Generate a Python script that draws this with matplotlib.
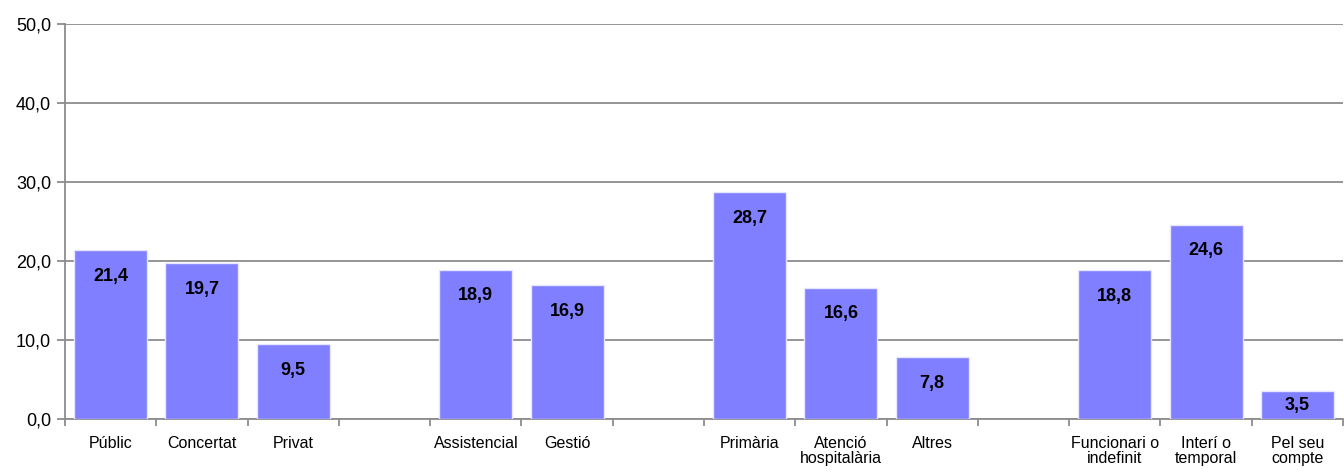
import matplotlib
matplotlib.use('Agg')
import matplotlib.pyplot as plt
import numpy as np

plt.rcParams['font.family'] = ['Liberation Sans Narrow', 'Liberation Sans', 'DejaVu Sans']

# chart data (blank slots separate the groups)
categories = ['Públic', 'Concertat', 'Privat', '',
              'Assistencial', 'Gestió', '',
              'Primària', 'Atenció\nhospitalària', 'Altres', '',
              'Funcionari o\nindefinit', 'Interí o\ntemporal', 'Pel seu\ncompte']
values = [21.4, 19.7, 9.5, None,
          18.9, 16.9, None,
          28.7, 16.6, 7.8, None,
          18.8, 24.6, 3.5]
y_ticks = [0, 10, 20, 30, 40, 50]

bar_color = '#7f7fff'
grey = '#8c8c8c'

fig = plt.figure(figsize=(13.44, 4.73), dpi=100)
ax = fig.add_axes([65 / 1344, 54 / 473, 1278 / 1344, 395 / 473])

x = np.arange(len(categories))
for xi, v in zip(x, values):
    if v is None:
        continue
    ax.bar(xi, v, width=0.8, color=bar_color, edgecolor='#e6e6ff', linewidth=1, zorder=3)
    # label inside the top of the bar, centred for short bars
    ly = max(v - 3.3, v / 2)
    ax.text(xi, ly, f'{v:.1f}'.replace('.', ','), ha='center', va='center',
            fontsize=13, fontweight='bold', color='black', zorder=4)

ax.set_xlim(-0.5, len(categories) - 0.5)
ax.set_ylim(0, 50)
ax.set_yticks(y_ticks)
ax.set_yticklabels([f'{t:.1f}'.replace('.', ',') for t in y_ticks], fontsize=13)
ax.yaxis.grid(True, color=grey, linewidth=1.3, zorder=0)

# category labels centred under slots, ticks on slot borders
ax.set_xticks(np.arange(len(categories) + 1) - 0.5)
ax.set_xticklabels([])
ax.set_xticks(x, minor=True)
ax.set_xticklabels(categories, minor=True, fontsize=11.5, va='top', linespacing=1.05)
ax.tick_params(axis='x', which='minor', length=0, pad=12)
ax.tick_params(axis='x', which='major', length=5, color=grey, width=1.3)
ax.tick_params(axis='y', length=6, color=grey, width=1.3, pad=4)

for side in ['top', 'right']:
    ax.spines[side].set_visible(False)
for side in ['left', 'bottom']:
    ax.spines[side].set_color(grey)
    ax.spines[side].set_linewidth(1.3)

fig.savefig('out.png', dpi=100)
